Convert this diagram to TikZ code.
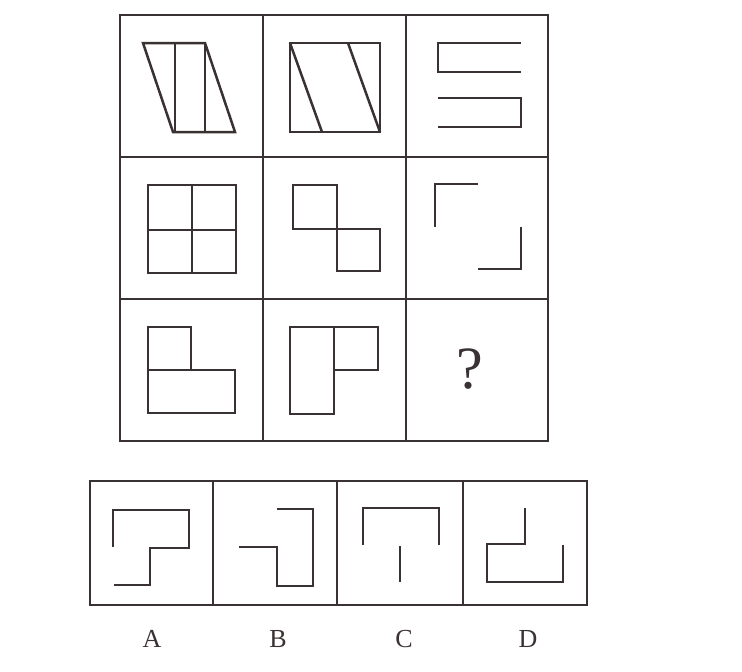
\documentclass[tikz,border=0pt]{standalone}
\usepackage{fontspec}
\setmainfont{Liberation Serif}
\definecolor{ink}{HTML}{3A3232}
\begin{document}
\begin{tikzpicture}[x=1pt,y=-1pt,
  frame/.style={draw=ink,line width=2.8pt},
  fig/.style={draw=ink,line width=2.5pt,line join=miter},
  lab/.style={font=\fontsize{26}{26}\selectfont,text=ink,inner sep=0pt}]
\useasboundingbox[fill=white] (0,0) rectangle (742,672);
% main grid
\draw[frame] (120,15) rectangle (548,441);
\draw[frame] (263,15) -- (263,441) (406,15) -- (406,441);
\draw[frame] (120,157) -- (548,157) (120,299) -- (548,299);
% row 1
\draw[fig] (143,43) -- (205,43) -- (235,132) -- (173,132) -- cycle;
\draw[fig] (175,43) -- (175,132) (205,43) -- (205,132);
\draw[fig] (290,43) rectangle (380,132);
\draw[fig] (290,43) -- (322,132) (348,43) -- (380,132);
\draw[fig] (521,43) -- (438,43) -- (438,72) -- (521,72);
\draw[fig] (438,98) -- (521,98) -- (521,127) -- (438,127);
% row 2
\draw[fig] (148,185) rectangle (236,273);
\draw[fig] (192,185) -- (192,273) (148,230) -- (236,230);
\draw[fig] (293,185) rectangle (337,229);
\draw[fig] (337,229) rectangle (380,271);
\draw[fig] (435,227) -- (435,184) -- (478,184);
\draw[fig] (521,227) -- (521,269) -- (478,269);
% row 3
\draw[fig] (148,327) rectangle (191,370);
\draw[fig] (148,370) rectangle (235,413);
\draw[fig] (290,327) rectangle (334,414);
\draw[fig] (334,327) rectangle (378,370);
\node[lab,font=\fontsize{60}{60}\selectfont] (q) at (470,369) {?};
% options
\draw[frame] (90,481) rectangle (587,605);
\draw[frame] (213,481) -- (213,605) (337,481) -- (337,605) (463,481) -- (463,605);
\draw[fig] (113,547) -- (113,510) -- (189,510) -- (189,548) -- (150,548) -- (150,585) -- (114,585);
\draw[fig] (239,547) -- (277,547) -- (277,586) -- (313,586) -- (313,509) -- (277,509);
\draw[fig] (363,545) -- (363,508) -- (439,508) -- (439,545);
\draw[fig] (400,546) -- (400,582);
\draw[fig] (525,508) -- (525,544) -- (487,544) -- (487,582) -- (563,582) -- (563,545);
\node[lab] (la) at (152,639) {A};
\node[lab] (lb) at (278,639) {B};
\node[lab] (lc) at (404,639) {C};
\node[lab] (ld) at (528,639) {D};
\end{tikzpicture}
\end{document}
